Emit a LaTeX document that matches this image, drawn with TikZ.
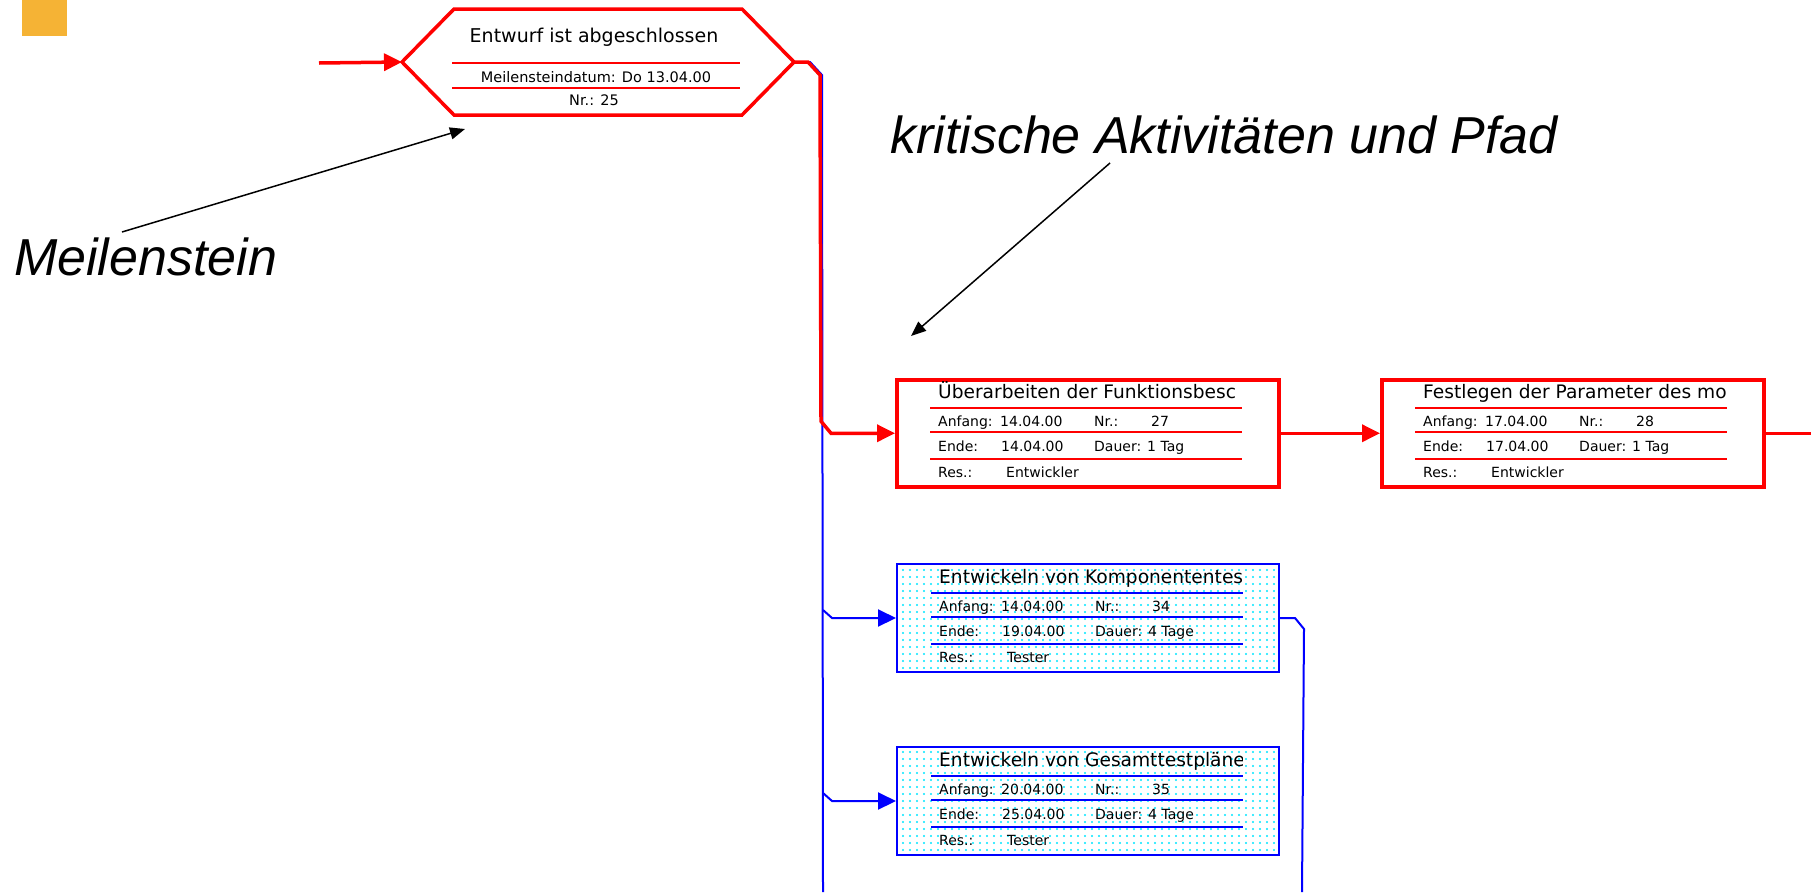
\documentclass[tikz,border=0pt]{standalone}
\usepackage{fontspec}
\setmainfont{Liberation Sans}
\newfontfamily\dvfont{DejaVu Sans}
\usetikzlibrary{arrows.meta,calc,patterns.meta}

\definecolor{msred}{RGB}{255,0,0}
\definecolor{msblue}{RGB}{0,0,255}
\definecolor{dotcyan}{RGB}{0,230,255}
\definecolor{squareorange}{RGB}{245,179,53}

\tikzset{
  redline/.style={draw=msred, line width=3.5pt},
  blueline/.style={draw=msblue, line width=2pt},
  redarrow/.style={redline, -{Triangle[length=18pt,width=17pt]}},
  bluearrow/.style={blueline, -{Triangle[length=18pt,width=17pt]}},
  hexline/.style={draw=msred, line width=3.5pt, line join=miter},
  annot/.style={font=\fontsize{52}{60}\selectfont\itshape, inner sep=0, anchor=base west},
  annotarrow/.style={draw=black, line width=1.5pt, -{Triangle[length=15pt,width=12pt]}},
  titletext/.style={font=\dvfont\fontsize{18.6}{20}\selectfont, inner sep=0, anchor=base west},
  rowtext/.style={font=\dvfont\fontsize{14}{16}\selectfont, inner sep=0, anchor=base west},
  hextitle/.style={font=\dvfont\fontsize{19}{21}\selectfont, inner sep=0, anchor=base},
  hexrow/.style={font=\dvfont\fontsize{14.5}{16}\selectfont, inner sep=0, anchor=base},
  redbox/.style={draw=msred, line width=3.5pt, fill=white, minimum width=382pt, minimum height=107pt, inner sep=0, anchor=north west},
  bluebox/.style={draw=msblue, line width=2pt, pattern={Dots[distance=7pt,radius=1.2pt]}, pattern color=dotcyan, minimum width=382pt, minimum height=108pt, inner sep=0, anchor=north west},
  redsep/.style={draw=msred, line width=2pt},
  bluesep/.style={draw=msblue, line width=2pt},
}

% #1 name, #2 red/blue, #3 position, #4 title, #5 start, #6 nr, #7 end, #8 dauer, #9 res
\newcommand\TaskBox[9]{%
  \node[#2box] (#1) at (#3) {};
  \begin{scope}
    \clip ($(#1.north west)+(38,3)$) rectangle ($(#1.north west)+(346,28)$);
    \node[titletext] (#1-title) at ($(#1.north west)+(43,20)$) {#4};
  \end{scope}
  \draw[#2sep] ($(#1.north west)+(35,30)$) -- ($(#1.north west)+(347,30)$);
  \draw[#2sep] ($(#1.north west)+(35,54)$) -- ($(#1.north west)+(347,54)$);
  \draw[#2sep] ($(#1.north west)+(35,81)$) -- ($(#1.north west)+(347,81)$);
  \node[rowtext] (#1-a) at ($(#1.north west)+(43,48)$) {Anfang:};
  \node[rowtext] (#1-b) at ($(#1.north west)+(105,48)$) {#5};
  \node[rowtext] (#1-c) at ($(#1.north west)+(199,48)$) {Nr.:};
  \node[rowtext] (#1-d) at ($(#1.north west)+(256,48)$) {#6};
  \node[rowtext] (#1-e) at ($(#1.north west)+(43,73)$) {Ende:};
  \node[rowtext] (#1-f) at ($(#1.north west)+(106,73)$) {#7};
  \node[rowtext] (#1-g) at ($(#1.north west)+(199,73)$) {Dauer:};
  \node[rowtext] (#1-h) at ($(#1.north west)+(252,73)$) {#8};
  \node[rowtext] (#1-i) at ($(#1.north west)+(43,99)$) {Res.:};
  \node[rowtext] (#1-j) at ($(#1.north west)+(111,99)$) {#9};
}

\begin{document}
\begin{tikzpicture}[x=1pt,y=-1pt]
  \useasboundingbox (0,0) rectangle (1811,892);
  \fill[white] (0,0) rectangle (1811,892);

  % orange corner square
  \fill[squareorange] (22,0) rectangle (67,36);

  % milestone hexagon
  \node[minimum width=392pt, minimum height=106pt, inner sep=0, outer sep=0] (ms) at (598,62) {};
  \draw[hexline] (ms.west) -- ($(ms.north west)+(52,0)$) -- ($(ms.north east)+(-52,0)$)
     -- (ms.east) -- ($(ms.south east)+(-52,0)$) -- ($(ms.south west)+(52,0)$) -- cycle;
  \draw[redsep] ($(ms.north west)+(50,54)$) -- ($(ms.north west)+(338,54)$);
  \draw[redsep] ($(ms.north west)+(50,79)$) -- ($(ms.north west)+(338,79)$);
  \node[hextitle] (mst) at ($(ms.north)+(-4,33)$) {Entwurf ist abgeschlossen};
  \node[hexrow] (msd) at ($(ms.north)+(-2,73)$) {Meilensteindatum: Do 13.04.00};
  \node[hexrow] (msn) at ($(ms.north)+(-4,96)$) {Nr.: 25};

  % task boxes
  \TaskBox{b1}{red}{895,378}{Überarbeiten der Funktionsbesc}{14.04.00}{27}{14.04.00}{1 Tag}{Entwickler}
  \TaskBox{b2}{red}{1380,378}{Festlegen der Parameter des mo}{17.04.00}{28}{17.04.00}{1 Tag}{Entwickler}
  \TaskBox{b3}{blue}{896,563}{Entwickeln von Komponententes}{14.04.00}{34}{19.04.00}{4 Tage}{Tester}
  \TaskBox{b4}{blue}{896,746}{Entwickeln von Gesamttestpläne}{20.04.00}{35}{25.04.00}{4 Tage}{Tester}

  % free ends
  \coordinate (redin) at (319,63);
  \coordinate (redout) at (1811,432);
  \coordinate (trunkend) at (823,892);
  \coordinate (blueout) at (1302,892);

  % blue connectors
  \draw[blueline] ([xshift=1pt]ms.east) -- ++(15,0) -- ++(12,13) -- (trunkend);
  \draw[bluearrow] ($(b3.west)+(-73,-8)$) -- ++(9,8) -- (b3.west);
  \draw[bluearrow] ($(b4.west)+(-73,-8)$) -- ++(9,8) -- (b4.west);
  \draw[blueline] (b3.east) -- ++(15,0) -- ++(9,11) -- (blueout);

  % red critical path
  \draw[redarrow] (redin) -- (ms.west);
  \draw[redarrow] ([xshift=-1pt]ms.east) -- ++(15,0) -- ++(12,13) -- ($(b1.west)+(-74,-12)$) -- ++(10,12) -- (b1.west);
  \draw[redarrow] (b1.east) -- (b2.west);
  \draw[redline] (b2.east) -- (b2.east -| redout);

  % annotations
  \node[annot] (mtext) at (14,275) {Meilenstein};
  \coordinate (mstart) at (122,232);
  \coordinate (mtip) at (465,129);
  \draw[annotarrow] (mstart) -- (mtip);

  \node[annot] (ktext) at (890,153) {kritische Aktivitäten und Pfad};
  \coordinate (kstart) at (1110,163);
  \coordinate (ktip) at (911,336);
  \draw[annotarrow] (kstart) -- (ktip);
\end{tikzpicture}
\end{document}
